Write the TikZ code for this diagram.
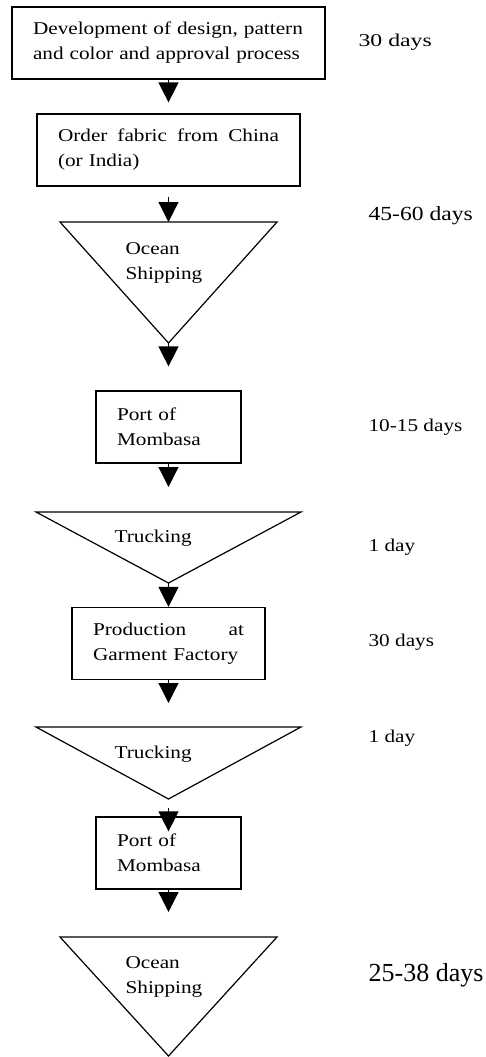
\documentclass[tikz,border=0pt]{standalone}
\usepackage{fontspec}
\setmainfont{Liberation Serif}[FakeStretch=1.18]
\newfontfamily\widerm{Liberation Serif}[FakeStretch=1.32]
\newfontfamily\plainrm{Liberation Serif}
\usetikzlibrary{arrows.meta}

\begin{document}
\begin{tikzpicture}[x=1pt,y=-1pt,line width=1.2pt]
      \tikzstyle{every node}=[font=\fontsize{18}{25}\selectfont,inner sep=0pt]
      \tikzstyle{stage}=[draw,align=left,inner xsep=21pt,minimum height=72pt]
      \tikzstyle{flow}=[-{Triangle[width=20pt,length=20pt]}]
      \tikzstyle{days}=[anchor=base west]
      \useasboundingbox (0,0) rectangle (486,1057);

      \node (design) [stage,text width=271pt] at (168.5,43)
	  {Development of design, pattern\\and color and approval process};
      \node (fabric) [stage,text width=221pt] at (168.5,150)
	  {Order\hfill fabric\hfill from\hfill China\\(or India)};
      \node (port1) [stage,text width=103pt] at (168.5,427) {Port of\\Mombasa};
      \node (factory) [stage,text width=151pt] at (168.5,643.5)
	  {Production\hfill at\\Garment Factory};
      \node (port2) [stage,text width=103pt] at (168.5,853) {Port of\\Mombasa};

      \draw (60,222) -- (277,222) -- (168.5,343) coordinate (ship1tip) -- cycle;
      \draw (36,512) -- (301,512) -- (168.5,583) coordinate (truck1tip) -- cycle;
      \draw (36,727) -- (301,727) -- (168.5,799) coordinate (truck2tip) -- cycle;
      \draw (60,937) -- (277,937) -- (168.5,1056) coordinate (ship2tip) -- cycle;
      \coordinate (ship1top) at (168.5,222);
      \coordinate (truck1top) at (168.5,512);
      \coordinate (truck2top) at (168.5,727);
      \coordinate (ship2top) at (168.5,937);

      \node (ship1) [align=left,anchor=west] at (125,263) {Ocean\\Shipping};
      \node (truck1) [days] at (114,542.7) {Trucking};
      \node (truck2) [days] at (114,758) {Trucking};
      \node (ship2) [align=left,anchor=west] at (125,977) {Ocean\\Shipping};

      \draw[flow,shorten >=11pt] (design) -- (fabric);
      \draw[flow,shorten <=10pt] (fabric) -- (ship1top);
      \draw[flow,shorten >=24pt] (ship1tip) -- (port1);
      \draw[flow,shorten >=25pt] (port1) -- (truck1top);
      \draw[flow] (truck1tip) -- (factory);
      \draw[flow,shorten >=24pt] (factory) -- (truck2top);
      \draw[flow,shorten <=9pt,shorten >=-15pt] (truck2tip) -- (port2);
      \draw[flow,shorten >=25pt] (port2) -- (ship2top);

      \node (lead1) [days,font=\widerm\fontsize{18}{25}\selectfont] at (358,46.7) {30 days};
      \node (lead2) [days,font=\fontsize{20}{25}\selectfont] at (368,220) {45-60 days};
      \node (lead3) [days] at (368,431) {10-15 days};
      \node (lead4) [days] at (368,551) {1 day};
      \node (lead5) [days] at (368,646.7) {30 days};
      \node (lead6) [days] at (368,742) {1 day};
      \node (lead7) [days,font=\plainrm\fontsize{26}{30}\selectfont] at (368,981.7) {25-38 days};
  \end{tikzpicture}
\end{document}
